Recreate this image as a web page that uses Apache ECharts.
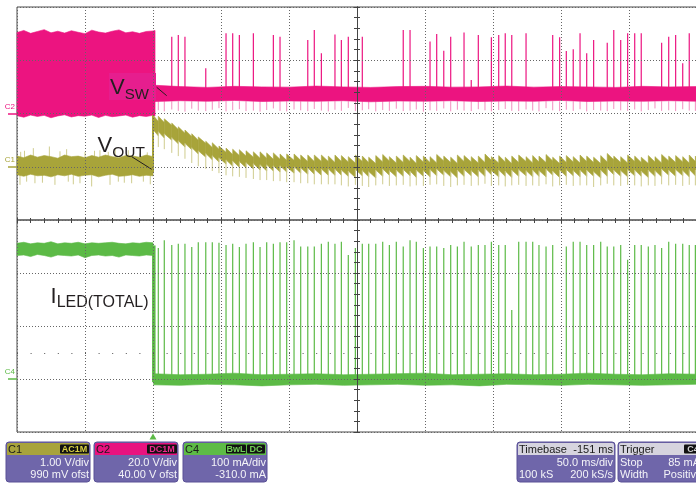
<!DOCTYPE html>
<html>
<head>
<meta charset="utf-8">
<title>LED driver scope capture</title>
<script src="https://cdn.jsdelivr.net/npm/echarts@6.0.0/dist/echarts.min.js"></script>
<style>
html,body{margin:0;padding:0;background:#ffffff;}
#chart{width:696px;height:483px;}
</style>
</head>
<body>
<div id="chart"></div>
<script>
// ================= DATA =================
const timeRangeMs = [-100, 400];            // 50 ms/div, 10 div, trigger at t = 0

// switching events after the trigger (ms)
const eventT = [
  3.9, 8.3, 13.8, 18.6, 23.5, 28.5, 33.3, 38.8, 43.6, 48.5,
  53.7, 58.6, 63.5, 68.4, 73.8, 78.7, 83.6, 88.5, 93.4, 98.3,
  103.7, 108.6, 113.8, 118.6, 123.8, 128.9, 133.8, 138.5, 143.6, 148.8,
  153.9, 158.6, 163.8, 168.9, 173.8, 178.9, 184.0, 189.0, 193.6, 198.8,
  203.7, 208.6, 213.8, 218.9, 223.8, 228.7, 234.0, 239.2, 244.1, 248.8,
  254.2, 259.0, 263.8, 268.9, 274.3, 279.2, 283.8, 289.0, 293.9, 299.0,
  303.9, 309.0, 314.0, 318.9, 324.0, 329.2, 334.0, 338.8, 343.9, 349.0,
  354.2, 359.0, 364.2, 369.1, 374.0, 379.2, 384.3, 389.5, 394.3, 398.8
];

// ---- C2 : V_SW (V) ----
const c2PreT  = [-100,-95,-90,-85,-80,-75,-70,-65,-60,-55,-50,-45,-40,-35,-30,-25,-20,-15,-10,-5,0,1.5];
const c2PreHi = [30.4,31.2,30.1,30.8,31.5,30.3,30.9,30.2,31.1,30.5,30.0,31.3,30.6,30.2,30.9,31.4,30.3,30.7,30.1,30.8,31.0,31.2];
const c2PreLo = [-0.8,-1.4,-0.6,-1.1,-0.7,-1.6,-0.9,-0.5,-1.3,-0.8,-1.0,-0.6,-1.5,-0.7,-1.2,-0.9,-0.6,-1.4,-0.8,-1.1,-0.7,-0.9];
const c2PostT  = [1.5,20,40,60,80,100,120,140,160,180,200,220,240,260,280,300,320,340,360,380,400];
const c2PostHi = [10.6,10.1,9.8,10.2,10.0,9.9,10.3,10.0,9.8,10.1,10.2,9.9,10.0,10.3,9.9,10.1,10.0,9.8,10.2,10.0,10.1];
const c2PostLo = [4.5,4.8,4.6,4.9,4.5,4.7,4.6,4.8,4.4,4.7,4.6,4.8,4.5,4.7,4.6,4.9,4.5,4.7,4.6,4.8,4.6];
const c2BandMidV = 7.5;
const c2SpikeTop = [
  null,null,28.8,29.5,28.8,null,null,17.0,null,null,
  30.1,30.1,29.5,null,30.1,null,null,29.5,28.8,null,
  null,null,27.6,31.4,22.6,null,29.7,27.6,28.8,null,
  28.8,null,null,null,null,null,31.4,31.4,null,null,
  27.0,29.9,23.6,28.8,null,30.4,12.6,29.5,null,28.6,
  29.5,30.1,29.5,null,30.1,null,null,null,29.5,28.6,
  23.5,24.1,30.1,22.6,27.6,null,26.6,31.4,27.6,30.1,
  30.1,30.1,null,null,26.6,28.8,29.5,18.9,30.1,null
];
const c2DipV = [
  1.2,0.8,1.5,1.0,0.7,1.8,1.1,0.9,1.4,2.0,
  0.8,1.2,1.6,0.9,1.1,0.7,1.3,1.9,1.0,0.8,
  1.5,1.2,0.9,1.7,1.1,0.8,1.4,1.0,2.1,0.9,
  1.2,1.6,0.8,1.3,1.0,1.8,0.9,1.1,1.5,0.7,
  1.2,1.0,1.9,0.8,1.4,1.1,0.9,1.6,1.2,0.8,
  1.3,1.7,1.0,0.9,1.5,1.1,0.8,2.0,1.2,0.9,
  1.4,1.0,1.6,0.8,1.3,1.1,0.9,1.7,1.2,1.0,
  1.5,0.8,1.3,1.9,1.0,1.2,0.9,1.6,1.1,1.0
];

// ---- C1 : V_OUT (V, AC coupled) ----
const c1PreT  = [-100,-95,-90,-85,-80,-75,-70,-65,-60,-55,-50,-45,-40,-35,-30,-25,-20,-15,-10,-5,0];
const c1PreHi = [0.20,0.17,0.22,0.18,0.21,0.19,0.16,0.22,0.19,0.20,0.17,0.21,0.18,0.22,0.19,0.17,0.21,0.20,0.18,0.22,0.19];
const c1PreLo = [-0.15,-0.18,-0.14,-0.17,-0.16,-0.19,-0.15,-0.17,-0.14,-0.18,-0.16,-0.15,-0.19,-0.16,-0.14,-0.18,-0.17,-0.15,-0.18,-0.16,-0.17];
const c1PreSpikeT = [-97.8,-97.3,-94.5,-92.9,-88.0,-86.8,-81.3,-76.2,-72.1,-68.4,-63.5,-62.3,-58.6,-53.7,-50.0,-45.1,-43.0,-39.0,-32.9,-31.6,-27.8,-25.5,-21.1,-18.2,-15.7,-9.6,-7.1,-4.2,-2.0];
const c1PreSpikeV = [-0.34,0.28,0.30,-0.28,0.35,-0.31,-0.30,0.38,-0.34,0.29,0.33,-0.28,-0.33,-0.31,0.28,-0.37,0.30,0.31,0.28,-0.34,0.33,-0.28,-0.30,0.31,-0.31,0.25,-0.28,0.27,-0.33];
const c1StepT = 0;
const c1StepV = [-0.10, 0.97];
// sawtooth segments: first starts at the trigger, then one per switching event
const c1Hi = [
  0.97,0.95,0.90,0.82,0.75,0.69,0.62,0.56,0.48,0.45,
  0.39,0.35,0.33,0.32,0.30,0.28,0.28,0.26,0.26,0.24,
  0.24,0.24,0.22,0.22,0.22,0.22,0.20,0.22,
  0.21,0.19,0.22,0.20,0.18,0.21,0.23,0.19,0.20,0.22,
  0.18,0.21,0.20,0.19,0.23,0.20,0.18,0.22,0.21,0.19,
  0.20,0.24,0.19,0.21,0.18,0.20,0.22,0.19,0.21,0.20,
  0.23,0.18,0.20,0.21,0.19,0.22,0.20,0.18,0.21,0.25,
  0.20,0.19,0.22,0.20,0.18,0.21,0.19,0.23,0.20,0.21,
  0.19,0.22,0.20
];
const c1Lo = [
  0.58,0.54,0.50,0.43,0.37,0.32,0.24,0.18,0.13,0.09,
  0.05,0.01,-0.01,-0.02,-0.04,-0.06,-0.08,-0.08,-0.10,-0.10,
  -0.12,-0.12,-0.14,-0.14,-0.16,-0.16,-0.16,-0.16,
  -0.18,-0.20,-0.17,-0.19,-0.21,-0.18,-0.16,-0.19,-0.18,-0.17,
  -0.20,-0.18,-0.19,-0.17,-0.16,-0.19,-0.21,-0.18,-0.17,-0.19,
  -0.18,-0.15,-0.19,-0.18,-0.20,-0.18,-0.17,-0.19,-0.18,-0.19,
  -0.16,-0.20,-0.18,-0.17,-0.19,-0.18,-0.18,-0.21,-0.18,-0.15,
  -0.18,-0.19,-0.17,-0.18,-0.20,-0.18,-0.19,-0.16,-0.18,-0.17,
  -0.19,-0.17,-0.18
];
const c1ToothV = 0.12;
const c1DipV = 0.17;

// ---- C4 : I_LED(TOTAL) (mA) ----
const c4PreT  = [-100,-95,-90,-85,-80,-75,-70,-65,-60,-55,-50,-45,-40,-35,-30,-25,-20,-15,-10,-5,0];
const c4PreHi = [256,258,255,257,256,259,255,257,256,258,255,257,256,257,258,256,255,257,256,258,257];
const c4PreLo = [233,234,231,235,233,230,234,233,232,234,229,233,234,232,233,230,234,233,232,234,233];
const c4PostT  = [0.5,20,40,60,80,100,120,140,160,180,200,220,240,260,280,300,320,340,360,380,400];
const c4PostHi = [10,8,9,11,8,9,10,8,9,10,11,8,9,10,8,9,11,9,8,10,9];
const c4PostLo = [-11,-12,-10,-11,-13,-11,-10,-12,-11,-10,-12,-11,-13,-10,-11,-12,-10,-11,-12,-11,-10];
const c4StepT = 0.6;
const c4StepMA = [252, -6];
const c4SpikeTop = [
  247,262,253,255,255,249,258,258,258,257,
  253,255,249,255,258,249,258,255,258,258,
  262,250,250,250,255,259,255,259,234,247,
  255,255,255,259,253,259,250,262,259,247,
  250,250,247,253,250,259,250,253,253,259,
  253,253,130,259,259,259,253,250,253,null,
  250,259,259,253,253,259,250,250,253,225,
  253,253,250,253,247,259,255,255,253,253
];
const c4DotLevelMA = 49;

// ================= STYLE =================
const PINK = '#EC1480', PINK_L = '#F38DBF', BOX_PINK = '#E61E8E';
const OLIVE = '#A8A43A', OLIVE_L = '#CFCC8E';
const GREEN = '#5CBA46';
const INK = '#231F20';
const FONT = 'Liberation Sans, Arial, sans-serif';
const GRIDDOT = '#666';

// ================= HELPERS =================
function band(xi, yi, ts, hi, lo, color, z, extra) {
  const data = ts.map((t, i) => [t, lo[i], hi[i]]);
  return Object.assign({
    type: 'custom', xAxisIndex: xi, yAxisIndex: yi, z: z, silent: true, animation: false,
    data: data, encode: { x: 0, y: [1, 2] },
    renderItem: function (params, api) {
      if (params.dataIndex !== 0) return;
      const pts = data.map(d => api.coord([d[0], d[2]]));
      for (let i = data.length - 1; i >= 0; i--) pts.push(api.coord([data[i][0], data[i][1]]));
      return { type: 'polygon', shape: { points: pts }, style: { fill: color, stroke: color, lineWidth: 0.6 } };
    }
  }, extra || {});
}

function spikes(xi, yi, ts, base, tops, color, width, z, extra) {
  const data = [];
  ts.forEach((t, i) => {
    const v = tops[i];
    if (v !== null && v !== undefined) data.push([t, Array.isArray(base) ? base[i] : base, v]);
  });
  return Object.assign({
    type: 'custom', xAxisIndex: xi, yAxisIndex: yi, z: z, silent: true, animation: false,
    data: data, encode: { x: 0, y: [1, 2] },
    renderItem: function (params, api) {
      const a = api.coord([api.value(0), api.value(1)]);
      const b = api.coord([api.value(0), api.value(2)]);
      return { type: 'line', shape: { x1: a[0], y1: a[1], x2: b[0], y2: b[1] },
               style: { stroke: color, lineWidth: width } };
    }
  }, extra || {});
}

function sawtooth() {
  const starts = [c1StepT].concat(eventT);
  const ends = eventT.concat([timeRangeMs[1]]);
  const data = starts.map((t, i) => [t, ends[i], c1Hi[i], c1Lo[i]]);
  return {
    type: 'custom', xAxisIndex: 0, yAxisIndex: 1, z: 4, silent: true, animation: false,
    data: data, encode: { x: [0, 1], y: [2, 3] },
    renderItem: function (params, api) {
      const t0 = api.value(0), t1 = api.value(1), hi = api.value(2), lo = api.value(3);
      const pts = [api.coord([t0, hi]), api.coord([t1, hi - c1ToothV]),
                   api.coord([t1, lo]), api.coord([t0, lo + c1ToothV])];
      const kids = [{ type: 'polygon', shape: { points: pts },
                      style: { fill: OLIVE, stroke: OLIVE, lineWidth: 0.6 } }];
      if (params.dataIndex > 0) {
        const a = api.coord([t0, lo + c1ToothV]), b = api.coord([t0, lo - c1DipV]);
        kids.push({ type: 'line', shape: { x1: a[0], y1: a[1], x2: b[0], y2: b[1] },
                    style: { stroke: OLIVE_L, lineWidth: 1 } });
      }
      return { type: 'group', children: kids };
    }
  };
}

function chanAxis(g, min, max, name, color) {
  return {
    gridIndex: g, type: 'value', min: min, max: max, position: 'left',
    axisLine: { show: false, onZero: false },
    splitLine: { show: false },
    axisTick: { show: true, inside: false, length: 9, customValues: [0], lineStyle: { color: color, width: 1.5 } },
    axisLabel: { show: true, customValues: [0], formatter: function () { return name; },
                 color: color, fontSize: 8, fontFamily: FONT, margin: 2,
                 verticalAlign: 'bottom', padding: [0, 0, 3, 0] }
  };
}
function divX(g, pos, len) {
  return {
    gridIndex: g, type: 'value', min: -5, max: 5, interval: 1, position: pos, z: 10,
    axisLine: { show: false, onZero: false },
    axisTick: { show: true, inside: true, length: len, lineStyle: { color: '#444' } },
    minorTick: { show: true, splitNumber: 5, length: len, lineStyle: { color: '#444' } },
    axisLabel: { show: false },
    splitLine: { show: true, lineStyle: { color: GRIDDOT, type: [1, 2], width: 1 } },
    minorSplitLine: { show: false }
  };
}
function divY(g, xIdx, inside) {
  return {
    gridIndex: g, type: 'value', min: 0, max: 4, interval: 1, position: 'left', z: 10,
    axisLine: { show: true, onZero: true, onZeroAxisIndex: xIdx, lineStyle: { color: '#444' } },
    axisTick: { show: true, inside: inside, length: 3, lineStyle: { color: '#444' } },
    minorTick: { show: true, splitNumber: 5, length: 3, lineStyle: { color: '#444' } },
    axisLabel: { show: false },
    splitLine: { show: !inside, lineStyle: { color: GRIDDOT, type: [1, 2], width: 1 } },
    minorSplitLine: { show: false }
  };
}

function subLabel(main, sub, mainSize, subSize, pad) {
  return {
    show: true, formatter: '{a|' + main + '}{b|' + sub + '}', color: INK,
    rich: {
      a: { fontSize: mainSize, lineHeight: mainSize, verticalAlign: 'top', color: INK, fontFamily: FONT },
      b: { fontSize: subSize, lineHeight: subSize, padding: [pad, 0, 0, 0], verticalAlign: 'top', color: INK, fontFamily: FONT }
    }
  };
}
const leaderStyle = { color: INK, width: 1, type: 'solid' };

// ================= INFO BOXES (scope UI chrome) =================
const BOX = '#6F66AA', BOX_EDGE = '#5A5196', HEAD_GRAY = '#D6D4DE', BODY_TXT = '#F4F4F8';
const gfx = [];
function rect(x, y, w, h, fill, r, stroke) {
  gfx.push({ type: 'rect', z: 100, silent: true, shape: { x: x, y: y, width: w, height: h, r: r || 0 },
             style: { fill: fill, stroke: stroke || null, lineWidth: stroke ? 1 : 0 } });
}
function txt(x, y, s, fill, align, font) {
  gfx.push({ type: 'text', z: 101, silent: true,
             style: { x: x, y: y, text: s, fill: fill, textAlign: align || 'left',
                      textVerticalAlign: 'middle', verticalAlign: 'middle', font: font || ('11px ' + FONT) } });
}
function chanBox(x, head, name, tags, l1, l2) {
  rect(x, 442, 84, 40, BOX, 3, BOX_EDGE);
  rect(x + 1, 443, 82, 12, head, [2, 2, 0, 0]);
  txt(x + 2, 449.5, name, '#1a1a1a');
  tags.forEach(tg => {
    rect(tg.x, 444.5, tg.w, 9, '#111', 1);
    txt(tg.x + tg.w / 2, 449.3, tg.t, tg.c, 'center', 'bold 9px ' + FONT);
  });
  txt(x + 83, 462.7, l1, BODY_TXT, 'right');
  txt(x + 83, 474.5, l2, BODY_TXT, 'right');
}
chanBox(6, '#A8A33C', 'C1', [{ t: 'AC1M', x: 60, w: 29, c: '#D9D143' }], '1.00 V/div', '990 mV ofst');
chanBox(94, '#E8137F', 'C2', [{ t: 'DC1M', x: 147, w: 30, c: '#F02A8E' }], '20.0 V/div', '40.00 V ofst');
chanBox(183, '#5DBB46', 'C4', [{ t: 'BwL', x: 226, w: 20, c: '#70D056' }, { t: 'DC', x: 247, w: 18, c: '#70D056' }], '100 mA/div', '-310.0 mA');
// Timebase
rect(517, 442, 98, 40, BOX, 3, BOX_EDGE);
rect(518, 443, 96, 12, HEAD_GRAY, [2, 2, 0, 0]);
txt(519, 449.5, 'Timebase', '#1a1a1a');
txt(613, 449.5, '-151 ms', '#1a1a1a', 'right');
txt(613, 462.7, '50.0 ms/div', BODY_TXT, 'right');
txt(519, 474.5, '100 kS', BODY_TXT);
txt(613, 474.5, '200 kS/s', BODY_TXT, 'right');
// Trigger
rect(618, 442, 90, 40, BOX, 3, BOX_EDGE);
rect(619, 443, 88, 12, HEAD_GRAY, [2, 2, 0, 0]);
txt(620, 449.5, 'Trigger', '#1a1a1a');
rect(684, 444.5, 18, 9, '#111', 1);
txt(693, 449.3, 'C4', '#CFCFCF', 'center', 'bold 9px ' + FONT);
txt(620, 462.7, 'Stop', BODY_TXT);
txt(700, 462.7, '85 mA', BODY_TXT, 'right');
txt(620, 474.5, 'Width', BODY_TXT);
txt(702, 474.5, 'Positive', BODY_TXT, 'right');

// ================= OPTION =================
const chart = echarts.init(document.getElementById('chart'), null, { renderer: 'canvas', width: 696, height: 483 });

const option = {
  animation: false,
  backgroundColor: '#ffffff',
  textStyle: { fontFamily: FONT },
  grid: [
    { left: 17, top: 7, width: 680, height: 213, show: true, borderColor: '#4a4a4a', borderWidth: 1,
      backgroundColor: 'transparent', containLabel: false, outerBoundsMode: 'none' },
    { left: 17, top: 220, width: 680, height: 212, show: true, borderColor: '#4a4a4a', borderWidth: 1,
      backgroundColor: 'transparent', containLabel: false, outerBoundsMode: 'none' }
  ],
  xAxis: [
    { gridIndex: 0, type: 'value', min: timeRangeMs[0], max: timeRangeMs[1], show: false, axisLine: { onZero: false } },
    { gridIndex: 1, type: 'value', min: timeRangeMs[0], max: timeRangeMs[1], show: false, axisLine: { onZero: false } },
    divX(0, 'bottom', 2),
    divX(1, 'top', 3)
  ],
  yAxis: [
    chanAxis(0, -40, 40, 'C2', PINK),      // 0 : V_SW, 20 V/div
    chanAxis(0, -1, 3, 'C1', OLIVE),       // 1 : V_OUT, 1 V/div
    chanAxis(1, -100, 300, 'C4', GREEN),   // 2 : I_LED, 100 mA/div
    divY(0, 2, false), divY(0, 2, true),   // 3,4 : upper graticule
    divY(1, 3, false), divY(1, 3, true)    // 5,6 : lower graticule
  ],
  series: [
    // ---- C2 ----
    band(0, 0, c2PreT, c2PreHi, c2PreLo, PINK, 2),
    spikes(0, 0, eventT, 4.6, c2DipV, PINK_L, 1, 2),
    spikes(0, 0, eventT, c2BandMidV, c2SpikeTop, PINK, 1.2, 2),
    band(0, 0, c2PostT, c2PostHi, c2PostLo, PINK, 3, {
      markPoint: {
        silent: true, animation: false,
        data: [{
          coord: [-15.07, 10.14], symbol: 'rect', symbolSize: [47, 27], itemStyle: { color: BOX_PINK },
          label: Object.assign(subLabel('V', 'SW', 22, 15, 10), { position: 'inside', offset: [-3, 1.5] })
        }]
      },
      markLine: {
        silent: true, animation: false, symbol: ['none', 'none'], label: { show: false }, lineStyle: leaderStyle,
        data: [[{ coord: [2.72, 9.84] }, { coord: [10.07, 6.69] }]]
      }
    }),
    // ---- C1 ----
    band(0, 1, c1PreT, c1PreHi, c1PreLo, OLIVE, 4),
    spikes(0, 1, c1PreSpikeT, 0, c1PreSpikeV, OLIVE_L, 1, 3),
    sawtooth(),
    spikes(0, 1, [c1StepT], c1StepV[0], [c1StepV[1]], OLIVE, 2, 4, {
      markPoint: {
        silent: true, animation: false,
        data: [{
          coord: [-41.18, 0.399], symbol: 'rect', symbolSize: 1, itemStyle: { color: 'rgba(0,0,0,0)' },
          label: Object.assign(subLabel('V', 'OUT', 22, 15.5, 10), { position: 'right', distance: 0 })
        }]
      },
      markLine: {
        silent: true, animation: false, symbol: ['none', 'none'], label: { show: false }, lineStyle: leaderStyle,
        data: [[{ coord: [-15.66, 0.189] }, { coord: [-0.96, -0.048] }]]
      }
    }),
    // ---- C4 ----
    spikes(1, 2, eventT, 0, c4SpikeTop, GREEN, 1.2, 3),
    band(1, 2, c4PreT, c4PreHi, c4PreLo, GREEN, 4),
    band(1, 2, c4PostT, c4PostHi, c4PostLo, GREEN, 4, {
      markLine: {
        silent: true, animation: false, symbol: ['none', 'none'], label: { show: false },
        lineStyle: { color: '#555', width: 1, type: [1, 12.6] },
        data: [{ yAxis: c4DotLevelMA }]
      }
    }),
    spikes(1, 2, [c4StepT], c4StepMA[0], [c4StepMA[1]], GREEN, 3.5, 4, {
      clip: false,
      markPoint: {
        silent: true, animation: false,
        data: [
          { coord: [-75.7, 155.7], symbol: 'rect', symbolSize: 1, itemStyle: { color: 'rgba(0,0,0,0)' },
            label: Object.assign(subLabel('I', 'LED(TOTAL)', 22, 16, 9), { position: 'right', distance: 0 }) },
          { coord: [0, -100], symbol: 'triangle', symbolSize: [7, 6], symbolOffset: [0, 4.5],
            itemStyle: { color: GREEN }, label: { show: false } }
        ]
      }
    })
  ],
  graphic: gfx
};
chart.setOption(option);
</script>
</body>
</html>
